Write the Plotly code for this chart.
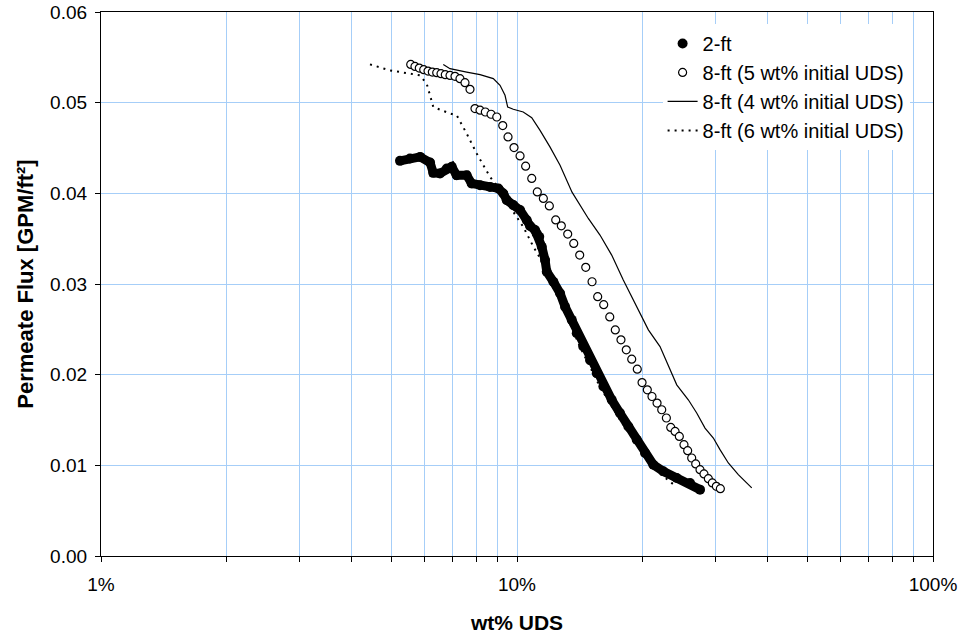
import plotly.graph_objects as go

# 2-ft (filled circles)
x_2ft = [5.233, 5.53, 5.85, 6.18, 6.29, 6.53, 6.78, 6.97, 7.16, 7.57, 7.78, 8.15, 8.61, 9.02, 9.27,
         9.45, 9.80, 10.17, 10.55, 10.75, 11.05, 11.15, 11.31, 11.47, 11.68, 11.79, 12.23, 12.69,
         13.05, 13.54, 13.92, 14.43, 14.98, 15.55, 16.13, 16.89, 17.68, 18.52, 19.40, 20.31, 21.27,
         22.47, 24.21, 26.06, 27.54]
y_2ft = [0.04358, 0.04384, 0.04402, 0.04340, 0.04226, 0.04219, 0.04274, 0.04292, 0.04200, 0.04200,
         0.04109, 0.04090, 0.04071, 0.04054, 0.03999, 0.03925, 0.03870, 0.03815, 0.03705, 0.03640,
         0.03595, 0.03558, 0.03521, 0.03411, 0.03264, 0.03136, 0.03025, 0.02898, 0.02750, 0.02604,
         0.02457, 0.02310, 0.02163, 0.02017, 0.01869, 0.01723, 0.01577, 0.01429, 0.01283, 0.01136,
         0.01007, 0.00934, 0.00861, 0.00806, 0.00732]

# 8-ft (5 wt% initial UDS) (open circles)
x_8ft5 = [5.553, 5.685, 5.823, 5.967, 6.111, 6.258, 6.412, 6.566, 6.724, 6.902, 7.095, 7.294, 7.499,
          7.709, 7.925, 8.150, 8.392, 8.662, 8.940, 9.241, 9.515, 9.836, 10.17, 10.49, 10.85, 11.19,
          11.57, 11.96, 12.39, 12.78, 13.24, 13.69, 14.15, 14.63, 15.15, 15.63, 16.16, 16.71, 17.23,
          17.78, 18.31, 18.87, 19.46, 19.98, 20.57, 21.11, 21.71, 22.28, 22.86, 23.42, 23.99, 24.56,
          25.20, 25.72, 26.30, 26.89, 27.54, 28.15, 28.84, 29.48, 30.14, 30.82]
y_8ft5 = [0.05422, 0.05400, 0.05381, 0.05364, 0.05348, 0.05337, 0.05331, 0.05320, 0.05309, 0.05301,
          0.05290, 0.05265, 0.05221, 0.05147, 0.04935, 0.04917, 0.04897, 0.04872, 0.04842, 0.04747,
          0.04622, 0.04505, 0.04413, 0.04299, 0.04164, 0.04016, 0.03944, 0.03861, 0.03707, 0.03642,
          0.03551, 0.03448, 0.03319, 0.03184, 0.03025, 0.02860, 0.02772, 0.02637, 0.02494, 0.02384,
          0.02274, 0.02171, 0.02061, 0.01913, 0.01833, 0.01759, 0.01687, 0.01613, 0.01522, 0.01418,
          0.01374, 0.01319, 0.01228, 0.01162, 0.01081, 0.01015, 0.00952, 0.00905, 0.00853, 0.00806,
          0.00768, 0.00743]

# 8-ft (4 wt% initial UDS) (solid line)
x_8ft4 = [6.650, 6.902, 7.569, 8.150, 8.770, 9.103, 9.358, 9.498, 9.797, 10.35, 10.85, 11.36, 12.00,
          12.69, 13.56, 14.84, 15.83, 16.89, 18.01, 18.87, 19.75, 20.69, 22.07, 23.55, 24.21, 25.81,
          27.04, 28.31, 29.65, 30.76, 32.21, 34.04, 36.67]
y_8ft4 = [0.05422, 0.05375, 0.05337, 0.05309, 0.05265, 0.05191, 0.05081, 0.04952, 0.04927, 0.04897,
          0.04835, 0.04695, 0.04512, 0.04310, 0.04013, 0.03723, 0.03540, 0.03319, 0.03044, 0.02860,
          0.02678, 0.02494, 0.02310, 0.02017, 0.01888, 0.01723, 0.01577, 0.01411, 0.01301, 0.01173,
          0.01026, 0.00897, 0.00751]

# 8-ft (6 wt% initial UDS) (dotted line)
x_8ft6 = [4.432, 4.951, 5.531, 5.847, 6.066, 6.292, 6.902, 7.161, 7.569, 8.001, 8.611, 9.271, 9.797,
          10.35, 10.95, 11.36, 12.00, 13.05, 14.17, 15.83, 17.68, 19.75, 22.07, 23.07, 23.99]
y_8ft6 = [0.05422, 0.05356, 0.05320, 0.05301, 0.05210, 0.04952, 0.04880, 0.04861, 0.04659, 0.04439,
          0.04182, 0.03999, 0.03796, 0.03631, 0.03411, 0.03286, 0.03044, 0.02692, 0.02307, 0.01866,
          0.01503, 0.01173, 0.00908, 0.00842, 0.00776]

x_tickvals = [1, 10, 100]
x_ticktext = ["1%", "10%", "100%"]
x_minor = [2, 3, 4, 5, 6, 7, 8, 9, 20, 30, 40, 50, 60, 70, 80, 90]
y_tickvals = [0, 0.01, 0.02, 0.03, 0.04, 0.05, 0.06]

FONT = "Liberation Sans, Arial, sans-serif"
GRID = "#a6cef8"

fig = go.Figure()

fig.add_trace(go.Scatter(x=x_8ft6, y=y_8ft6, mode="lines", name="8-ft (6 wt% initial UDS)",
                         line=dict(color="black", width=2, dash="2px,5px"), legendrank=4))
fig.add_trace(go.Scatter(x=x_2ft, y=y_2ft, mode="lines", showlegend=False, hoverinfo="skip",
                         line=dict(color="black", width=9)))
fig.add_trace(go.Scatter(x=x_2ft, y=y_2ft, mode="markers", name="2-ft",
                         marker=dict(symbol="circle", size=10, color="black"), legendrank=1))
fig.add_trace(go.Scatter(x=x_8ft5, y=y_8ft5, mode="markers", name="8-ft (5 wt% initial UDS)",
                         marker=dict(symbol="circle", size=8, color="white",
                                     line=dict(color="black", width=1.2)), legendrank=2))
fig.add_trace(go.Scatter(x=x_8ft4, y=y_8ft4, mode="lines", name="8-ft (4 wt% initial UDS)",
                         line=dict(color="black", width=1.2), legendrank=3))

fig.update_layout(
    width=961, height=634,
    margin=dict(l=101, r=28, t=12, b=78, autoexpand=False),
    paper_bgcolor="white", plot_bgcolor="white",
    font=dict(family=FONT, size=19, color="black"),
    showlegend=True,
    legend=dict(x=0.675, y=0.978, xanchor="left", yanchor="top", bgcolor="white",
                borderwidth=0, font=dict(family=FONT, size=20, color="black")),
    xaxis=dict(type="log", range=[0, 2], tickvals=x_tickvals, ticktext=x_ticktext,
               showgrid=True, gridcolor=GRID, gridwidth=1,
               ticks="outside", ticklen=5, tickcolor="black",
               minor=dict(tickvals=x_minor, showgrid=True, gridcolor=GRID, gridwidth=1,
                          ticks="outside", ticklen=5, tickcolor="black"),
               showline=True, linecolor="black", linewidth=1.3, mirror=True,
               ticklabelstandoff=6, automargin=False,
               title=dict(text="<b>wt% UDS</b>", font=dict(family=FONT, size=21), standoff=22),
               zeroline=False),
    yaxis=dict(range=[0, 0.06], tickvals=y_tickvals, tickformat=".2f",
               showgrid=True, gridcolor=GRID, gridwidth=1,
               ticks="outside", ticklen=5, tickcolor="black",
               showline=True, linecolor="black", linewidth=1.3, mirror=True,
               ticklabelstandoff=4, automargin=False,
               title=dict(text="<b>Permeate Flux [GPM/ft²]</b>", font=dict(family=FONT, size=22),
                          standoff=10),
               zeroline=False),
)

fig.write_html("out.html")
